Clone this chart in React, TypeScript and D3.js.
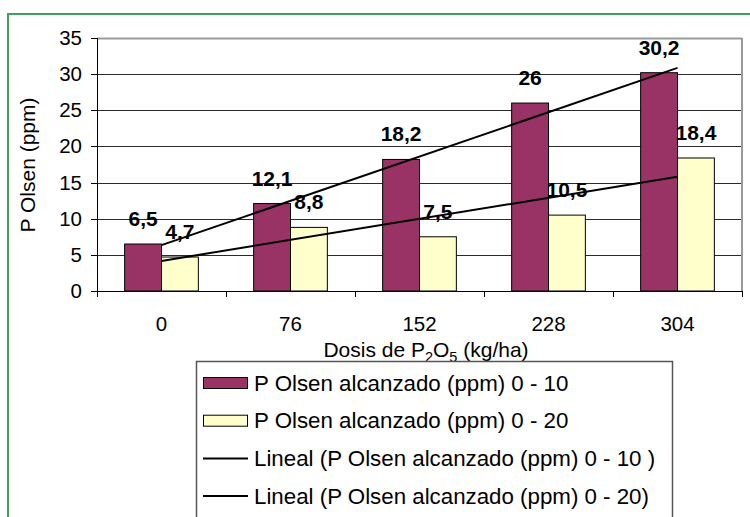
import { useEffect, useRef } from "react"
import * as d3 from "d3"

// dosis de P2O5 (kg/ha)
const categories = ["0", "76", "152", "228", "304"]
// P Olsen alcanzado (ppm)
const olsen10 = [6.5, 12.1, 18.2, 26, 30.2]
const olsen20 = [4.7, 8.8, 7.5, 10.5, 18.4]
const yTicks = [0, 5, 10, 15, 20, 25, 30, 35]

const seriesNames = [
  "P Olsen alcanzado (ppm) 0 - 10",
  "P Olsen alcanzado (ppm) 0 - 20",
  "Lineal (P Olsen alcanzado (ppm) 0 - 10 )",
  "Lineal (P Olsen alcanzado (ppm) 0 - 20)",
]

const PURPLE = "#993366"
const YELLOW = "#FFFFCC"
const FONT = "'Liberation Sans', Arial, Helvetica, sans-serif"

// least squares fit over x = 1..n, like Excel's linear trendline
function linearFit(values: number[]) {
  const xs = values.map((_, i) => i + 1)
  const mx = d3.mean(xs) as number
  const my = d3.mean(values) as number
  const num = d3.sum(xs.map((x, i) => (x - mx) * (values[i] - my)))
  const den = d3.sum(xs.map((x) => (x - mx) ** 2))
  const slope = num / den
  return (x: number) => my + slope * (x - mx)
}

const fmt = (v: number) => String(v).replace(".", ",")

export default function App() {
  const svgRef = useRef<SVGSVGElement>(null)

  useEffect(() => {
    if (!svgRef.current) return
    const svg = d3.select(svgRef.current)
    svg.selectAll("*").remove()

    const left = 97
    const right = 742
    const top = 38
    const bottom = 291

    // green frame around the figure
    svg
      .append("rect")
      .attr("x", 8)
      .attr("y", 14)
      .attr("width", 800)
      .attr("height", 600)
      .attr("fill", "none")
      .attr("stroke", "#3f9e60")
      .attr("stroke-width", 2)

    const x = d3.scaleBand<string>().domain(categories).range([left, right]).padding(0)
    const y = d3.scaleLinear().domain([0, 35]).range([bottom, top])

    const bw = x.bandwidth() / 3.5

    // gridlines
    svg
      .append("g")
      .selectAll("line")
      .data(yTicks)
      .enter()
      .append("line")
      .attr("x1", left)
      .attr("x2", right)
      .attr("y1", (d) => Math.round(y(d)) + 0.5)
      .attr("y2", (d) => Math.round(y(d)) + 0.5)
      .attr("stroke", (d) => (d === 35 ? "#9a9a9a" : "#2a2a2a"))
      .attr("stroke-width", (d) => (d === 35 ? 2 : 1))

    // right border of plot area
    svg
      .append("line")
      .attr("x1", right)
      .attr("x2", right)
      .attr("y1", top)
      .attr("y2", bottom)
      .attr("stroke", "#9a9a9a")
      .attr("stroke-width", 2)

    // bars
    const groups = svg
      .append("g")
      .selectAll("g")
      .data(categories)
      .enter()
      .append("g")

    groups
      .append("rect")
      .attr("x", (d) => (x(d) as number) + x.bandwidth() / 2 - bw)
      .attr("y", (_, i) => y(olsen10[i]))
      .attr("width", bw)
      .attr("height", (_, i) => bottom - y(olsen10[i]))
      .attr("fill", PURPLE)
      .attr("stroke", "#000")
      .attr("stroke-width", 1)

    groups
      .append("rect")
      .attr("x", (d) => (x(d) as number) + x.bandwidth() / 2)
      .attr("y", (_, i) => y(olsen20[i]))
      .attr("width", bw)
      .attr("height", (_, i) => bottom - y(olsen20[i]))
      .attr("fill", YELLOW)
      .attr("stroke", "#000")
      .attr("stroke-width", 1)

    // axes
    svg
      .append("line")
      .attr("x1", left + 0.5)
      .attr("x2", left + 0.5)
      .attr("y1", top)
      .attr("y2", bottom)
      .attr("stroke", "#000")
    svg
      .append("line")
      .attr("x1", left)
      .attr("x2", right)
      .attr("y1", bottom + 0.5)
      .attr("y2", bottom + 0.5)
      .attr("stroke", "#000")

    const yAxis = svg.append("g")
    yAxis
      .selectAll("line")
      .data(yTicks)
      .enter()
      .append("line")
      .attr("x1", left - 6)
      .attr("x2", left)
      .attr("y1", (d) => Math.round(y(d)) + 0.5)
      .attr("y2", (d) => Math.round(y(d)) + 0.5)
      .attr("stroke", "#000")
    yAxis
      .selectAll("text")
      .data(yTicks)
      .enter()
      .append("text")
      .attr("x", 82)
      .attr("y", (d) => y(d) + 7)
      .attr("text-anchor", "end")
      .attr("font-family", FONT)
      .attr("font-size", 20.5)
      .attr("fill", "#000")
      .text((d) => d)

    const xAxis = svg.append("g")
    xAxis
      .selectAll("line")
      .data(d3.range(categories.length + 1))
      .enter()
      .append("line")
      .attr("x1", (i) => Math.round(left + i * x.step()) + 0.5)
      .attr("x2", (i) => Math.round(left + i * x.step()) + 0.5)
      .attr("y1", bottom)
      .attr("y2", bottom + 6)
      .attr("stroke", "#000")
    xAxis
      .selectAll("text")
      .data(categories)
      .enter()
      .append("text")
      .attr("x", (d) => (x(d) as number) + x.bandwidth() / 2)
      .attr("y", 331)
      .attr("text-anchor", "middle")
      .attr("font-family", FONT)
      .attr("font-size", 20.5)
      .attr("fill", "#000")
      .text((d) => d)

    // trend lines
    const cx = (i: number) => (x(categories[i]) as number) + x.bandwidth() / 2
    const last = categories.length - 1
    ;[olsen10, olsen20].forEach((vals) => {
      const f = linearFit(vals)
      svg
        .append("line")
        .attr("x1", cx(0))
        .attr("y1", y(f(1)))
        .attr("x2", cx(last))
        .attr("y2", y(f(last + 1)))
        .attr("stroke", "#000")
        .attr("stroke-width", 2)
    })

    // data labels
    const labels = svg.append("g")
      .attr("font-family", FONT)
      .attr("font-size", 21)
      .attr("font-weight", "bold")
      .attr("text-anchor", "middle")
    categories.forEach((c, i) => {
      const c0 = (x(c) as number) + x.bandwidth() / 2
      labels
        .append("text")
        .attr("x", c0 - bw / 2)
        .attr("y", y(olsen10[i]) - 18)
        .text(fmt(olsen10[i]))
      labels
        .append("text")
        .attr("x", c0 + bw / 2)
        .attr("y", y(olsen20[i]) - 18)
        .text(fmt(olsen20[i]))
    })

    // axis titles
    const xt = svg
      .append("text")
      .attr("x", 426)
      .attr("y", 357)
      .attr("text-anchor", "middle")
      .attr("font-family", FONT)
      .attr("font-size", 21)
    xt.append("tspan").text("Dosis de P")
    xt.append("tspan").attr("font-size", 14.5).attr("dy", 5).text("2")
    xt.append("tspan").attr("dy", -5).text("O")
    xt.append("tspan").attr("font-size", 14.5).attr("dy", 5).text("5")
    xt.append("tspan").attr("dy", -5).text(" (kg/ha)")

    svg
      .append("text")
      .attr("transform", "translate(35,165) rotate(-90)")
      .attr("text-anchor", "middle")
      .attr("font-family", FONT)
      .attr("font-size", 21)
      .text("P Olsen (ppm)")

    // legend
    const lg = svg.append("g")
    lg.append("rect")
      .attr("x", 196.5)
      .attr("y", 361.5)
      .attr("width", 476)
      .attr("height", 200)
      .attr("fill", "#fff")
      .attr("stroke", "#555")
      .attr("stroke-width", 1.5)

    const rows = lg
      .selectAll("g")
      .data(seriesNames)
      .enter()
      .append("g")
      .attr("transform", (_, i) => `translate(0, ${383 + i * 37.7})`)

    rows.each(function (_, i) {
      const row = d3.select(this)
      if (i < 2) {
        row
          .append("rect")
          .attr("x", 203.5)
          .attr("y", -5.5)
          .attr("width", 44)
          .attr("height", 11)
          .attr("fill", i === 0 ? PURPLE : YELLOW)
          .attr("stroke", "#000")
      } else {
        row
          .append("line")
          .attr("x1", 203)
          .attr("x2", 248)
          .attr("y1", 0)
          .attr("y2", 0)
          .attr("stroke", "#000")
          .attr("stroke-width", 2)
      }
    })

    rows
      .append("text")
      .attr("x", 254)
      .attr("y", 7.5)
      .attr("font-family", FONT)
      .attr("font-size", 22.3)
      .attr("fill", "#000")
      .text((d) => d)
  }, [])

  return (
    <svg
      ref={svgRef}
      width={750}
      height={517}
      style={{ position: "absolute", left: 0, top: 0, background: "#fff" }}
    />
  )
}
